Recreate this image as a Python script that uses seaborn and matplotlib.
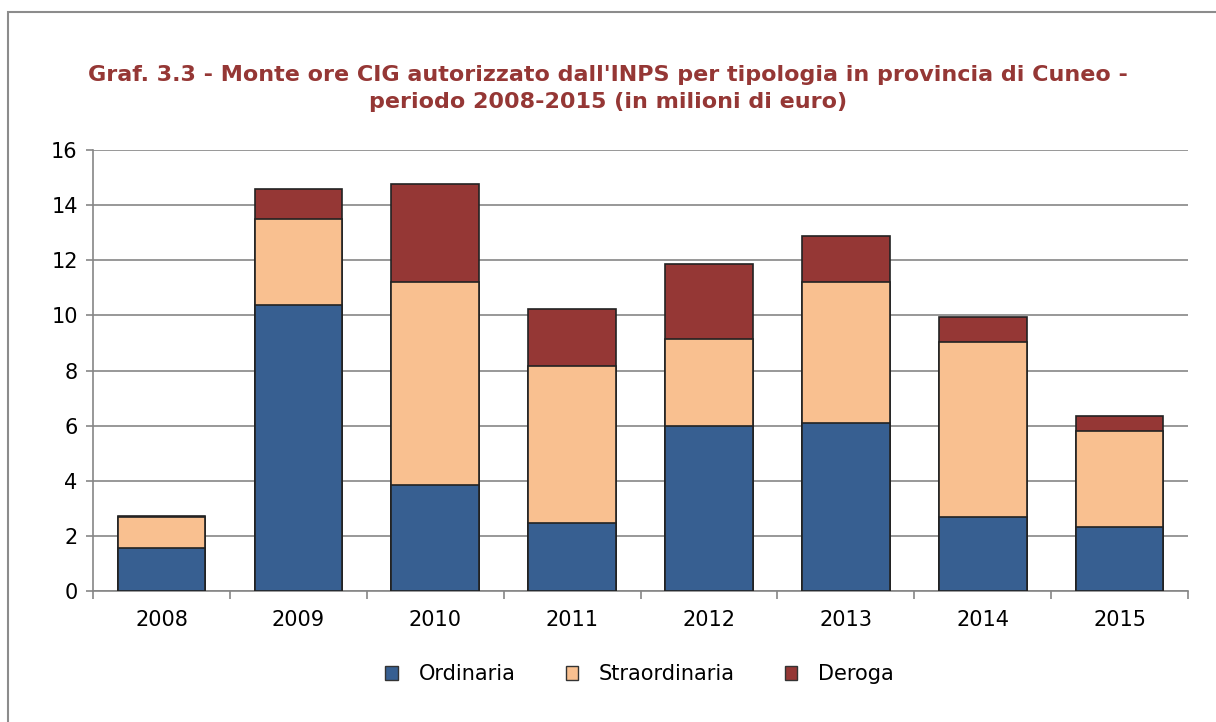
import matplotlib
matplotlib.use("Agg")
import matplotlib.pyplot as plt
import seaborn as sns
import numpy as np
import pandas as pd
from matplotlib.patches import Rectangle, Patch

# Dati (milioni di euro)
anni = ["2008", "2009", "2010", "2011", "2012", "2013", "2014", "2015"]
ordinaria = [1.56, 10.38, 3.85, 2.47, 5.99, 6.10, 2.69, 2.32]
straordinaria = [1.14, 3.12, 7.36, 5.69, 3.15, 5.11, 6.34, 3.49]
deroga = [0.04, 1.09, 3.56, 2.07, 2.73, 1.67, 0.91, 0.54]

c_ord = "#375F91"
c_str = "#F9C090"
c_der = "#953735"

sns.set_style("white")
plt.rcParams['font.family'] = ['DejaVu Sans']

df = pd.DataFrame({"anno": anni, "ord": ordinaria, "str": straordinaria, "der": deroga})
df["tot_str"] = df["ord"] + df["str"]
df["tot_der"] = df["tot_str"] + df["der"]

fig = plt.figure(figsize=(12.16, 7.22), dpi=100)
ax = fig.add_axes([0.0765, 0.1814, 0.9005, 0.6108])

# cornice esterna
fig.patches.append(Rectangle((8 / 1216, -0.01), 1.02, 1 - 12 / 722 + 0.01, transform=fig.transFigure,
                             fill=False, edgecolor="#8c8c8c", linewidth=1.5))

# barre impilate: totale prima, poi strati sovrapposti
w = 0.64
sns.barplot(data=df, x="anno", y="tot_der", color=c_der, saturation=1, width=w,
            edgecolor="#222222", linewidth=1.2, ax=ax, zorder=3)
sns.barplot(data=df, x="anno", y="tot_str", color=c_str, saturation=1, width=w,
            edgecolor="#222222", linewidth=1.2, ax=ax, zorder=3)
sns.barplot(data=df, x="anno", y="ord", color=c_ord, saturation=1, width=w,
            edgecolor="#222222", linewidth=1.2, ax=ax, zorder=3)

ax.set_ylim(0, 16)
ax.set_xlim(-0.5, len(anni) - 0.5)
ax.set_yticks(range(0, 17, 2))
ax.yaxis.grid(True, color="#868686", linewidth=1.2)
ax.set_axisbelow(True)
ax.set_xlabel("")
ax.set_ylabel("")

for s in ["top", "right"]:
    ax.spines[s].set_visible(False)
for s in ["left", "bottom"]:
    ax.spines[s].set_color("#868686")
    ax.spines[s].set_linewidth(1.2)

ax.tick_params(axis="y", which="both", length=5, width=1.2, color="#868686", labelsize=15,
               labelcolor="black", pad=6, left=True)
ax.set_xticks(np.arange(len(anni)))
ax.set_xticklabels(anni)
ax.tick_params(axis="x", which="major", length=0, labelsize=15, labelcolor="black", pad=14)
ax.set_xticks(np.arange(-0.5, len(anni)), minor=True)
ax.tick_params(axis="x", which="minor", length=6, width=1.2, color="#868686", bottom=True)

fig.text(0.5, 0.877, "Graf. 3.3 - Monte ore CIG autorizzato dall'INPS per tipologia in provincia di Cuneo -\nperiodo 2008-2015 (in milioni di euro)",
         ha="center", va="center", fontsize=16, fontweight="bold", color="#953735", linespacing=1.45)

handles = [Patch(facecolor=c_ord, edgecolor="#333333", label="Ordinaria"),
           Patch(facecolor=c_str, edgecolor="#333333", label="Straordinaria"),
           Patch(facecolor=c_der, edgecolor="#333333", label="Deroga")]
leg = fig.legend(handles=handles, loc="center", bbox_to_anchor=(0.526, 0.066), ncol=3, frameon=False,
                 fontsize=15, handlelength=0.6, handleheight=0.6, columnspacing=2.4, handletextpad=1.0)
for t in leg.get_texts():
    t.set_color("black")

fig.savefig("out.png", dpi=100)
